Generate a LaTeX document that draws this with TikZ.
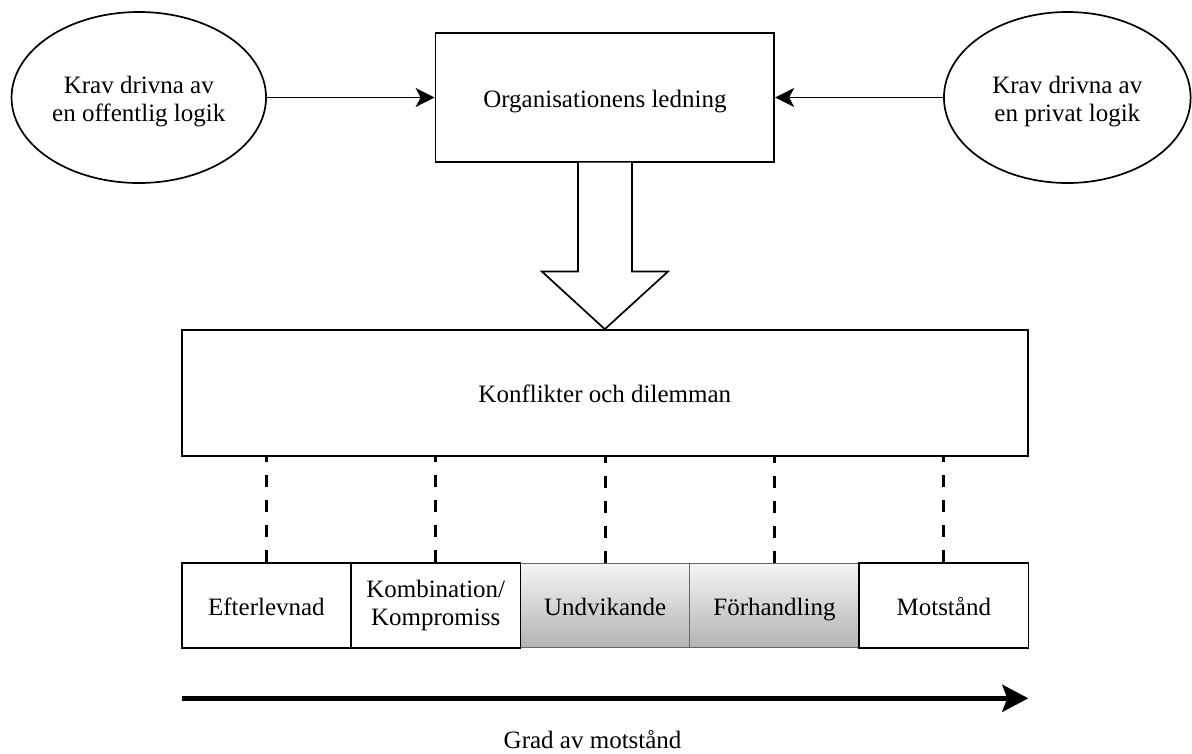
\documentclass[tikz,border=0pt]{standalone}
\usepackage{fontspec}
\setmainfont{Liberation Serif}
\usetikzlibrary{arrows.meta,shapes.geometric,calc}
\definecolor{gradtop}{HTML}{F5F5F5}
\definecolor{gradbot}{HTML}{B3B3B3}
\definecolor{gradline}{HTML}{666666}
\newcommand{\mystrut}{\rule[-6pt]{0pt}{31pt}}
\begin{document}
\begin{tikzpicture}[x=1pt,y=-1pt,
  every node/.style={font=\fontsize{25}{28.4}\selectfont},
  ell/.style={draw, ellipse, line width=1.7pt, inner sep=0pt, align=center},
  box/.style={draw, rectangle, line width=1.7pt, inner sep=0pt, align=center},
  whitebox/.style={box, fill=white, minimum width=169.4pt, minimum height=84.4pt},
  greybox/.style={draw=gradline, line width=1.2pt, rectangle, inner sep=0pt, align=center,
     top color=gradtop, bottom color=gradbot, minimum width=169.4pt, minimum height=84.4pt},
  conn/.style={line width=1.8pt, -{Stealth[length=19pt,width=19pt,inset=5pt]}},
  dashconn/.style={line width=3.2pt, dash pattern=on 12pt off 13pt},
  hollow/.style={line width=1.7pt, fill=white, line join=miter},
  bigarrow/.style={line width=4.6pt, -{Stealth[length=26pt,width=27pt,inset=5pt]}}
]
\useasboundingbox (0,0) rectangle (1192,753);

% top row
\node[ell, minimum width=254.5pt, minimum height=171pt] (pub) at (138.8,97.5)
  {\mystrut Krav drivna av\\en offentlig logik};
\node[ell, minimum width=246.7pt, minimum height=171pt] (priv) at (1067.3,97.5)
  {\mystrut Krav drivna av\\en privat logik};
\node[box, minimum width=338.8pt, minimum height=128.4pt] (org) at (604.9,97.5)
  {\mystrut Organisationens ledning};

\draw[conn] (pub.east) -- (org.west);
\draw[conn] (priv.west) -- (org.east);

% conflicts box
\node[box, minimum width=846.2pt, minimum height=126pt] (konf) at (604.8,393)
  {\mystrut Konflikter och dilemman};

% hollow arrow
\draw[hollow] ($(org.south)+(-27,0)$) -- ($(org.south)+(-27,109)$)
  -- ($(org.south)+(-63,109)$) -- (konf.north)
  -- ($(org.south)+(63,109)$) -- ($(org.south)+(27,109)$)
  -- ($(org.south)+(27,0)$);

% strategy boxes
\node[greybox] (b3) at (605.1,605.5) {\mystrut Undvikande};
\node[greybox] (b4) at (774.5,605.5) {\mystrut Förhandling};
\node[whitebox] (b1) at (266.4,605.5) {\mystrut Efterlevnad};
\node[whitebox] (b2) at (435.7,605.5) {Kombination/\\Kompromiss};
\node[whitebox] (b5) at (943.8,605.5) {\mystrut Motstånd};

\foreach \b in {b1,b2,b3,b4,b5}{
  \draw[dashconn] (\b.north) -- (\b.north |- konf.south);
}

% degree arrow
\coordinate (as) at (181.6,698.3);
\coordinate (ae) at (1028.3,698.3);
\draw[bigarrow] (as) -- (ae);
\node[anchor=base, inner sep=0pt] (grad) at (592.6,748) {Grad av motstånd};
\end{tikzpicture}
\end{document}
